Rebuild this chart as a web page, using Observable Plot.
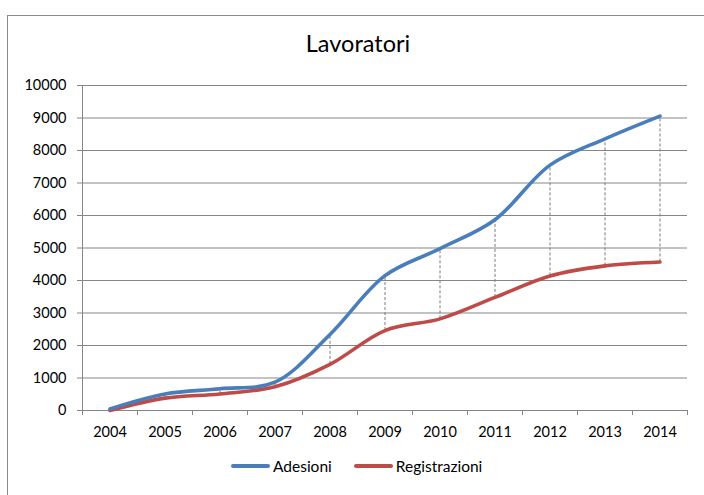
<!DOCTYPE html>
<html>
<head>
<meta charset="utf-8">
<script src="https://cdn.jsdelivr.net/npm/d3@7"></script>
<script src="https://cdn.jsdelivr.net/npm/@observablehq/plot@0.6"></script>
<style>
  html, body { margin: 0; padding: 0; background: #fff; }
  #wrap { position: relative; width: 704px; height: 495px; overflow: hidden; font-family: Lato, "Open Sans", sans-serif; }
  #frame { position: absolute; left: 7px; top: 15px; width: 740px; height: 520px; border: 1px solid #8a8a8a; box-sizing: border-box; }
  #title { position: absolute; left: 0; top: 29px; width: 716px; text-align: center; font-size: 23.5px; color: #000; }
  #chart { position: absolute; left: 0; top: 0; }
  #legend { position: absolute; top: 457px; left: 231px; display: flex; align-items: center; font-size: 15.5px; color: #000; }
  .sw { display: inline-block; width: 39px; height: 4px; border-radius: 2px; margin-right: 3px; }
  .item { display: flex; align-items: center; }
</style>
</head>
<body>
<div id="wrap">
  <div id="frame"></div>
  <div id="title">Lavoratori</div>
  <div id="chart"></div>
  <div id="legend"></div>
</div>
<script>
const years = [2004, 2005, 2006, 2007, 2008, 2009, 2010, 2011, 2012, 2013, 2014];
const adesioni = [50, 510, 670, 870, 2340, 4150, 4980, 5870, 7550, 8360, 9060];
const registrazioni = [0, 380, 510, 730, 1420, 2460, 2820, 3480, 4140, 4450, 4570];
const yTicks = [0, 1000, 2000, 3000, 4000, 5000, 6000, 7000, 8000, 9000, 10000];
const seriesNames = ["Adesioni", "Registrazioni"];
const seriesColors = ["#4A7EBB", "#BE4B48"];

const rows = years.map((y, i) => ({year: y, a: adesioni[i], r: registrazioni[i]}));
const boundaries = [...years.map(y => y - 0.5), years[years.length - 1] + 0.5];

const chart = Plot.plot({
  width: 704,
  height: 445,
  marginLeft: 82,
  marginRight: 17,
  marginTop: 85,
  marginBottom: 35,
  style: {fontFamily: "Lato, 'Open Sans', sans-serif", fontSize: "14.5px", color: "#000", background: "transparent", overflow: "visible"},
  x: {type: "linear", domain: [years[0] - 0.5, years[years.length - 1] + 0.5]},
  y: {domain: [0, 10000]},
  marks: [
    Plot.gridY(yTicks, {stroke: "#868686", strokeOpacity: 1, strokeWidth: 1}),
    Plot.axisY(yTicks, {tickSize: 5, tickPadding: 11, tickFormat: d => String(d), stroke: "#868686", fill: "#000", label: null}),
    Plot.ruleX([years[0] - 0.5], {stroke: "#868686", strokeWidth: 1}),
    Plot.axisX(boundaries, {tickSize: 5, tickFormat: () => "", stroke: "#868686", label: null}),
    Plot.axisX(years, {tickSize: 0, tickPadding: 16, tickFormat: d => String(d), fill: "#000", label: null}),
    Plot.ruleX(rows, {x: "year", y1: "r", y2: "a", stroke: "#7a7a7a", strokeWidth: 1, strokeDasharray: "3,2"}),
    Plot.line(rows, {x: "year", y: "r", stroke: seriesColors[1], strokeWidth: 3.6, curve: "catmull-rom"}),
    Plot.line(rows, {x: "year", y: "a", stroke: seriesColors[0], strokeWidth: 3.6, curve: "catmull-rom"})
  ]
});
document.getElementById("chart").appendChild(chart);

const legend = document.getElementById("legend");
seriesNames.forEach((name, i) => {
  const item = document.createElement("div");
  item.className = "item";
  if (i > 0) item.style.marginLeft = "22px";
  const sw = document.createElement("span");
  sw.className = "sw";
  sw.style.background = seriesColors[i];
  const t = document.createElement("span");
  t.textContent = name;
  item.appendChild(sw);
  item.appendChild(t);
  legend.appendChild(item);
});
</script>
</body>
</html>
